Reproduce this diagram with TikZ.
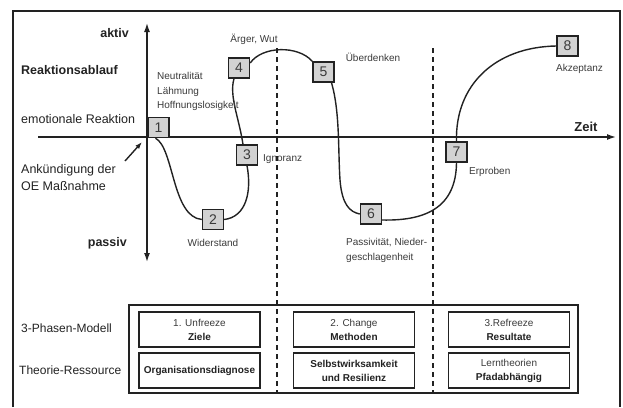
\documentclass[tikz,border=0pt]{standalone}
\usepackage{fontspec}
\setmainfont{Liberation Sans}
\usetikzlibrary{arrows.meta}
\definecolor{boxfill}{HTML}{D2D2D2}
\definecolor{ink}{HTML}{222222}
\definecolor{soft}{HTML}{3A3A3A}
\begin{document}
\begin{tikzpicture}[x=1pt,y=-1pt,
  numbox/.style={draw=ink, fill=boxfill, line width=1.4pt, minimum width=21pt, minimum height=20pt, inner sep=0pt, font=\fontsize{14}{14}\selectfont, text=soft},
  biglabel/.style={font=\fontsize{12.5}{17}\selectfont, text=ink, inner sep=0pt, align=left},
  midlabel/.style={font=\fontsize{12}{14}\selectfont, text=ink, inner sep=0pt},
  boldlabel/.style={font=\bfseries\fontsize{12.5}{14}\selectfont, text=ink, inner sep=0pt},
  small/.style={font=\fontsize{10}{14.5}\selectfont, text=soft, inner sep=0pt, align=left},
  phase/.style={draw=ink, line width=1.4pt, minimum width=121pt, minimum height=35pt, inner sep=0pt, align=center, font=\fontsize{10}{14}\selectfont, text=ink},
  dline/.style={dash pattern=on 5pt off 4pt, line width=1.8pt, draw=ink},
  axisline/.style={line width=1.4pt, draw=ink},
  curveline/.style={line width=1.4pt, draw=ink},
]
\useasboundingbox (0,0) rectangle (623,407);
% frame
\draw[line width=2pt, ink] (13,407) -- (13,11) -- (620,11) -- (620,407);

% axes
\coordinate (vtop) at (147,23);
\coordinate (vbot) at (147,262);
\coordinate (hleft) at (38,137);
\coordinate (hright) at (616,137);
\draw[axisline, {Latex[length=9pt,width=6pt]}-{Latex[length=9pt,width=6pt]}] (vbot) -- (vtop);
\draw[axisline, -{Latex[length=9pt,width=6pt]}] (hleft) -- (hright);

% announcement arrow
\coordinate (annS) at (125,161);
\coordinate (annE) at (142,142);
\draw[line width=1.4pt, ink, -{Latex[length=7pt,width=5pt]}] (annS) -- (annE);

% dashed lines
\coordinate (d1t) at (277,48);
\coordinate (d1b) at (277,393);
\coordinate (d2t) at (433,48);
\coordinate (d2b) at (433,393);

% numbered boxes (anchors for the curve)
\path (158.5,127.5) node[numbox] (n1) {1}
      (213,219.5) node[numbox] (n2) {2}
      (247,155) node[numbox] (n3) {3}
      (239,68) node[numbox] (n4) {4}
      (323.5,72) node[numbox] (n5) {5}
      (371,214) node[numbox] (n6) {6}
      (456.5,152) node[numbox] (n7) {7}
      (567.5,46) node[numbox] (n8) {8};

% curve
\draw[curveline] ([xshift=-3pt]n1.south) .. controls (174,148) and (172,217) .. (n2.west);
\draw[curveline] (n2.east) .. controls (246,217) and (252,192) .. (n3.south);
\draw[curveline] ([xshift=-4pt]n3.north) .. controls (239,118) and (229,96) .. ([xshift=-5pt]n4.south);
\draw[curveline] ([yshift=5pt]n4.east) .. controls (262,46) and (298,45) .. (n5.north west);
\draw[curveline] ([xshift=8pt]n5.south) .. controls (340,112) and (338,150) .. (340,180) .. controls (342,205) and (350,212) .. (n6.west);
\draw[curveline] ([yshift=-6pt]n6.east) .. controls (425,221) and (456,208) .. (n7.south);
\draw[curveline] (n7.north) .. controls (455,85) and (495,47) .. (n8.west);

% redraw boxes on top of the curve
\path (158.5,127.5) node[numbox] {1}
      (213,219.5) node[numbox] {2}
      (247,155) node[numbox] {3}
      (239,68) node[numbox] {4}
      (323.5,72) node[numbox] {5}
      (371,214) node[numbox] {6}
      (456.5,152) node[numbox] {7}
      (567.5,46) node[numbox] {8};

% left labels
\node[boldlabel, anchor=east] (aktiv) at (129,33) {aktiv};
\node[boldlabel, anchor=west] (ablauf) at (21,70) {Reaktionsablauf};
\node[biglabel, anchor=west] (emo) at (21,119) {emotionale Reaktion};
\node[biglabel, anchor=north west] (ank) at (21,164) {Ankündigung der\\OE Maßnahme};
\node[boldlabel, anchor=east] (passiv) at (127,243) {passiv};
\node[font=\bfseries\fontsize{13}{14}\selectfont, text=ink, inner sep=0pt] (zeit) at (586,127) {Zeit};

% stage labels
\node[small, anchor=base west] (neutr) at (157,108.5) {Neutralität\\Lähmung\\Hoffnungslosigkeit};
\node[small] (aerger) at (254,39) {Ärger, Wut};
\node[small, anchor=west] (ign) at (263,159) {Ignoranz};
\node[small] (wid) at (213,243) {Widerstand};
\node[small] (ueber) at (373,57) {Überdenken};
\node[small, anchor=west] (erp) at (469,172) {Erproben};
\node[small, anchor=west] (akz) at (556,69) {Akzeptanz};
\node[small, anchor=base west, font=\fontsize{10}{15}\selectfont] (pass) at (346,260.5) {Passivität, Nieder-\\geschlagenheit};

% bottom table
\draw[line width=1.2pt, ink] (129,305) rectangle (578,393);
\node[midlabel, anchor=west] (ph) at (21,328) {3-Phasen-Modell};
\node[midlabel, anchor=west] (tr) at (19,370) {Theorie-Ressource};
\node[phase] (p1) at (199.5,329.5) {{\color{soft}1. Unfreeze}\\\textbf{Ziele}};
\node[phase] (p2) at (354,329.5) {{\color{soft}2. Change}\\\textbf{Methoden}};
\node[phase] (p3) at (509,329.5) {{\color{soft}3.Refreeze}\\\textbf{Resultate}};
\node[phase] (t1) at (199.5,370.5) {\textbf{Organisationsdiagnose}};
\node[phase] (t2) at (354,370.5) {\textbf{Selbstwirksamkeit}\\\textbf{und Resilienz}};
\node[phase] (t3) at (509,370.5) {{\color{soft}Lerntheorien}\\\textbf{Pfadabhängig}};

\draw[dline] (d1t) -- (d1b);
\draw[dline] (d2t) -- (d2b);
\end{tikzpicture}
\end{document}
